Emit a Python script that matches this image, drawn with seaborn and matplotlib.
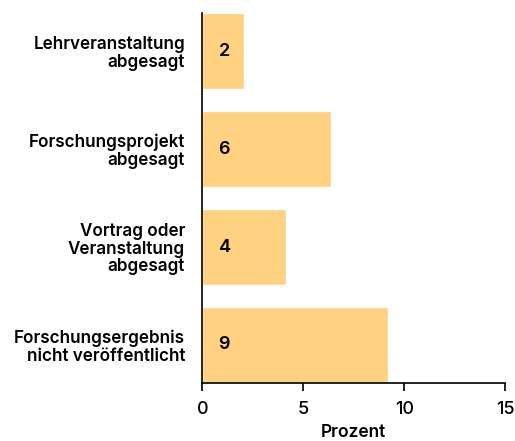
import numpy as np
import pandas as pd
import matplotlib
matplotlib.use("Agg")
import matplotlib.pyplot as plt
import seaborn as sns

categories = ["Lehrveranstaltung\nabgesagt",
              "Forschungsprojekt\nabgesagt",
              "Vortrag oder\nVeranstaltung\nabgesagt",
              "Forschungsergebnis\nnicht veröffentlicht"]
values = [2.05, 6.38, 4.15, 9.2]
labels = ["2", "6", "4", "9"]

df = pd.DataFrame({"cat": categories, "val": values})

sns.set_style("white")
plt.rcParams['font.family'] = ['Inter', 'DejaVu Sans']

fig = plt.figure(figsize=(5.15, 4.41), dpi=100)
ax = fig.add_axes([0.393, 0.1315, 0.588, 0.839])
sns.barplot(data=df, x="val", y="cat", color="#FED280", saturation=1,
            width=0.776, ax=ax, orient="h")

for i, lab in enumerate(labels):
    ax.text(0.8, i, lab, va="center", ha="left", fontsize=13,
            fontweight="semibold", color="black")

ax.set_xlim(0, 15)
ax.set_ylim(3.388, -0.388)
ax.set_xticks([0, 5, 10, 15])
ax.set_xlabel("Prozent", fontsize=12.5, fontweight="semibold",
              color="black", labelpad=4)
ax.set_ylabel("")
sns.despine(ax=ax)
for s in ["left", "bottom"]:
    ax.spines[s].set_color("black")
    ax.spines[s].set_linewidth(1.2)
ax.tick_params(axis="x", bottom=True, length=6, width=1.2, labelsize=13,
               pad=7, colors="black")
ax.tick_params(axis="y", left=False, labelsize=12.3, pad=9, colors="black")
for t in ax.get_xticklabels():
    t.set_fontweight("medium")
for t in ax.get_yticklabels():
    t.set_fontweight("semibold")
    t.set_multialignment("right")
    t.set_linespacing(1.05)

fig.savefig("out.png", dpi=100)
